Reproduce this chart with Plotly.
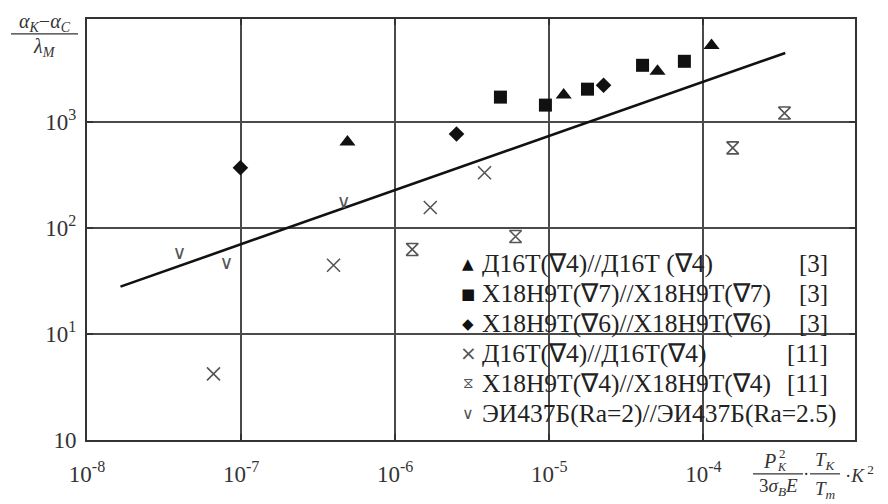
import plotly.graph_objects as go

# ---------------- data ----------------
tri_x = [4.9e-7, 1.24e-5, 5.04e-5, 1.13e-4]
tri_y = [649, 1794, 3013, 5285]

sq_x = [4.82e-6, 9.44e-6, 1.77e-5, 4.03e-5, 7.53e-5]
sq_y = [1718, 1444, 2042, 3429, 3740]

dia_x = [9.9e-8, 2.5e-6, 2.25e-5]
dia_y = [370, 771, 2225]

cross_x = [6.62e-8, 3.98e-7, 1.69e-6, 3.80e-6]
cross_y = [4.21, 44.5, 156, 332]

star_x = [1.29e-6, 6.04e-6, 1.55e-4, 3.36e-4]
star_y = [62.8, 83.2, 570, 1215]

check_x = [3.98e-8, 8.03e-8, 4.63e-7]
check_y = [56.4, 45.4, 170]

fit_x = [1.65e-8, 3.4e-4]
fit_y = [28, 4480]

legend_glyphs = ["▲", "■", "◆", "×", "⧖", "∨"]
legend_names = [
    "Д16Т(∇4)//Д16Т (∇4)",
    "Х18Н9Т(∇7)//Х18Н9Т(∇7)",
    "Х18Н9Т(∇6)//Х18Н9Т(∇6)",
    "Д16Т(∇4)//Д16Т(∇4)",
    "Х18Н9Т(∇4)//Х18Н9Т(∇4)",
    "ЭИ437Б(Ra=2)//ЭИ437Б(Ra=2.5)",
]
legend_refs = ["[3]", "[3]", "[3]", "[11]", "[11]", ""]

x_tickvals = [1e-8, 1e-7, 1e-6, 1e-5, 1e-4]
x_ticktext = ["10<sup>-8</sup>", "10<sup>-7</sup>", "10<sup>-6</sup>",
              "10<sup>-5</sup>", "10<sup>-4</sup>"]
y_tickvals = [1, 10, 100, 1000]
y_ticktext = ["10", "10<sup>1</sup>", "10<sup>2</sup>", "10<sup>3</sup>"]

# ---------------- layout helpers ----------------
OFF = 8                      # page body margin
W, H = 888 - OFF, 504 - OFF
L, R, T, B = 87, 855, 17, 440   # plot area in page pixels
SERIF = "Liberation Serif"
GRAY = "#555555"


def px(x):
    return (x - L) / (R - L)


def py(y):
    return (B - y) / (B - T)


fig = go.Figure()

fig.add_trace(go.Scatter(x=fit_x, y=fit_y, mode="lines",
                         line=dict(color="#111111", width=2.6), showlegend=False))
fig.add_trace(go.Scatter(x=tri_x, y=tri_y, mode="markers", showlegend=False,
                         marker=dict(symbol="triangle-up", size=14, color="#111111")))
fig.add_trace(go.Scatter(x=sq_x, y=sq_y, mode="markers", showlegend=False,
                         marker=dict(symbol="square", size=13, color="#111111")))
fig.add_trace(go.Scatter(x=dia_x, y=dia_y, mode="markers", showlegend=False,
                         marker=dict(symbol="diamond", size=12, color="#111111")))
fig.add_trace(go.Scatter(x=cross_x, y=cross_y, mode="markers", showlegend=False,
                         marker=dict(symbol="x-thin-open", size=13, color=GRAY,
                                     line=dict(color=GRAY, width=1.6))))
fig.add_trace(go.Scatter(x=star_x, y=star_y, mode="markers", showlegend=False,
                         marker=dict(symbol="hourglass-open", size=12, color=GRAY,
                                     line=dict(color=GRAY, width=1.6))))
fig.add_trace(go.Scatter(x=check_x, y=check_y, mode="text", showlegend=False,
                         text=["∨"] * len(check_x), textposition="middle center",
                         textfont=dict(family="DejaVu Sans", size=19, color=GRAY)))

axis_common = dict(type="log", showgrid=True, gridcolor="#4a4a4a", gridwidth=1.6,
                   showline=True, linecolor="#333333", linewidth=2, mirror="ticks",
                   ticks="inside", ticklen=6, tickcolor="#333333", tickwidth=1.6,
                   zeroline=False,
                   tickfont=dict(family=SERIF, size=23, color="#333333"))

fig.update_xaxes(range=[-8, -3.016], tickvals=x_tickvals, ticktext=x_ticktext,
                 ticklabelstandoff=12, **axis_common)
fig.update_yaxes(range=[0, 3.972], tickvals=y_tickvals, ticktext=y_ticktext,
                 ticklabelstandoff=4, **axis_common)

shapes = [
    # white legend panel covering the grid
    dict(type="rect", xref="paper", yref="paper", x0=px(472), x1=px(855),
         y0=py(440), y1=py(243), fillcolor="white", line=dict(width=0),
         layer="between"),
    # fraction bars of the axis titles
    dict(type="line", xref="paper", yref="paper", x0=px(11), x1=px(78),
         y0=py(32), y1=py(32), line=dict(color="#333333", width=1.2)),
    dict(type="line", xref="paper", yref="paper", x0=px(753), x1=px(803),
         y0=py(474), y1=py(474), line=dict(color="#333333", width=1.2)),
    dict(type="line", xref="paper", yref="paper", x0=px(810), x1=px(840),
         y0=py(474), y1=py(474), line=dict(color="#333333", width=1.2)),
]

ann = []


def text(x, y, s, size=20, anchor="center", family=SERIF, color="#333333"):
    ann.append(dict(xref="paper", yref="paper", x=px(x), y=py(y), text=s,
                    showarrow=False, xanchor=anchor, yanchor="middle",
                    font=dict(family=family, size=size, color=color)))


# legend rows
for i, (g, n, r) in enumerate(zip(legend_glyphs, legend_names, legend_refs)):
    yy = 263 + 30 * i
    gcol = "#111111" if i < 3 else GRAY
    gsize = [15, 15, 15, 20, 15, 16][i]
    text(468, yy, g, size=gsize, family="DejaVu Sans", color=gcol)
    text(480, yy, n, size=25.5, anchor="left", color="#222222")
    if r:
        text(830, yy, r, size=25, anchor="right", color="#222222")

# y-axis title (fraction)
text(45, 21, "<i>α</i><sub><i>K</i></sub>−<i>α</i><sub><i>C</i></sub>", size=20)
text(44, 46, "<i>λ</i><sub><i>M</i></sub>", size=20)

# x-axis title
text(769, 461, "<i>P</i>", size=20)
text(782, 454, "2", size=13)
text(782, 467, "<i>K</i>", size=12)
text(778, 487, "3<i>σ</i><sub><i>B</i></sub><i>E</i>", size=19)
text(806, 474, "·", size=19)
text(825, 461, "<i>T</i><sub><i>K</i></sub>", size=19)
text(825, 490, "<i>T</i><sub><i>m</i></sub>", size=19)
text(843, 474, "·<i>K</i><sup> 2</sup>", size=19, anchor="left")

fig.update_layout(width=W, height=H,
                  margin=dict(l=L - OFF, r=W - (R - OFF), t=T - OFF, b=H - (B - OFF)),
                  paper_bgcolor="white", plot_bgcolor="white",
                  shapes=shapes, annotations=ann, showlegend=False)

fig.write_html("out.html")
